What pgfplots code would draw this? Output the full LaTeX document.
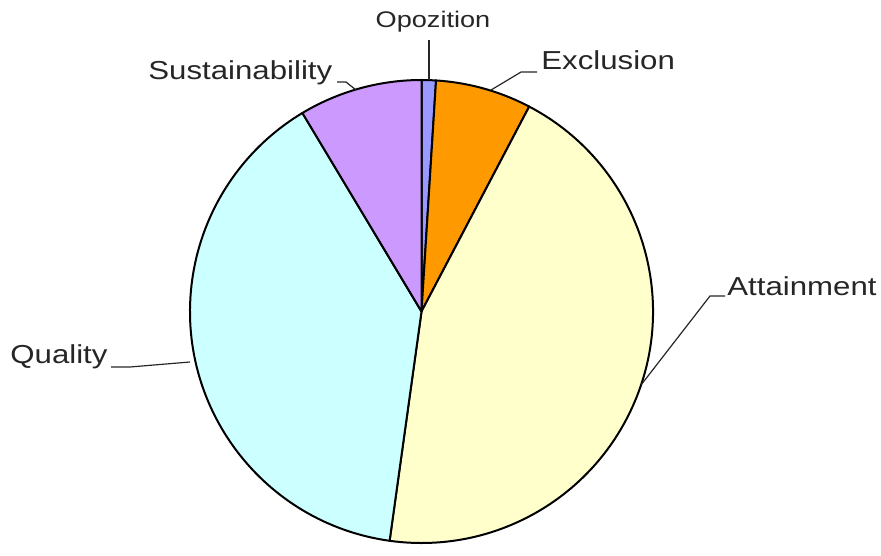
\documentclass[border=0pt]{standalone}
\usepackage{pgfplots}
\usepackage{pgfplotstable}
\usepackage{fontspec}
\setmainfont{Liberation Sans}
\pgfplotsset{compat=1.18}
\definecolor{cOpo}{HTML}{9999FF}
\definecolor{cExc}{HTML}{FF9900}
\definecolor{cAtt}{HTML}{FFFFCC}
\definecolor{cQua}{HTML}{CCFFFF}
\definecolor{cSus}{HTML}{CC99FF}
\pgfplotstableread{
label value color
Opozition 1.0 cOpo
Exclusion 6.7 cExc
Attainment 44.5 cAtt
Quality 39.2 cQua
Sustainability 8.6 cSus
}\piedata
\newcommand\lbl[1]{\scalebox{1.2}[1]{#1}}
\begin{document}
\begin{tikzpicture}
\begin{axis}[
  x=0.5pt, y=0.5pt,
  xmin=0, xmax=881, ymin=0, ymax=545,
  hide axis, clip=false,
]
\path (axis cs:0,0) rectangle (axis cs:881,545);
\pgfplotstablegetrowsof{\piedata}
\pgfmathtruncatemacro\N{\pgfplotsretval-1}
\def\cum{0}
\pgfplotsforeachungrouped \i in {0,...,\N}{
  \pgfplotstablegetelem{\i}{value}\of\piedata \let\v\pgfplotsretval
  \pgfplotstablegetelem{\i}{color}\of\piedata \let\c\pgfplotsretval
  \pgfmathsetmacro\a{90-3.6*\cum}
  \pgfmathsetmacro\b{90-3.6*(\cum+\v)}
  \edef\temp{\noexpand\filldraw[fill=\c, draw=black, line width=1pt, line join=round]
    (axis cs:421.5,233.5) -- ++(\a:115.75pt) arc[start angle=\a, end angle=\b, radius=115.75pt] -- cycle;}
  \temp
  \pgfmathsetmacro\cum{\cum+\v}
}
% leader lines
\draw[line width=0.6pt, black!85] (axis cs:429,505) -- (axis cs:429,465);
\draw[line width=0.6pt, black!85] (axis cs:491,455) -- (axis cs:521,473) -- (axis cs:537,473);
\draw[line width=0.6pt, black!85] (axis cs:641,160) -- (axis cs:710,249) -- (axis cs:725,249);
\draw[line width=0.6pt, black!85] (axis cs:111,178) -- (axis cs:130,178) -- (axis cs:190,183);
\draw[line width=0.6pt, black!85] (axis cs:337,463) -- (axis cs:346,463) -- (axis cs:356,455);
% labels
\node[font=\fontsize{11.3}{14}\selectfont, inner sep=0pt, text=black!85] at (axis cs:433,523) {\lbl{Opozition}};
\node[font=\fontsize{13}{16}\selectfont, inner sep=0pt, anchor=west, text=black!85] at (axis cs:541,485) {\lbl{Exclusion}};
\node[font=\fontsize{13}{16}\selectfont, inner sep=0pt, anchor=west, text=black!85] at (axis cs:727,259) {\lbl{Attainment}};
\node[font=\fontsize{13}{16}\selectfont, inner sep=0pt, anchor=west, text=black!85] at (axis cs:10,188) {\lbl{Quality}};
\node[font=\fontsize{13}{16}\selectfont, inner sep=0pt, anchor=west, text=black!85] at (axis cs:148,472) {\lbl{Sustainability}};
\end{axis}
\end{tikzpicture}
\end{document}
